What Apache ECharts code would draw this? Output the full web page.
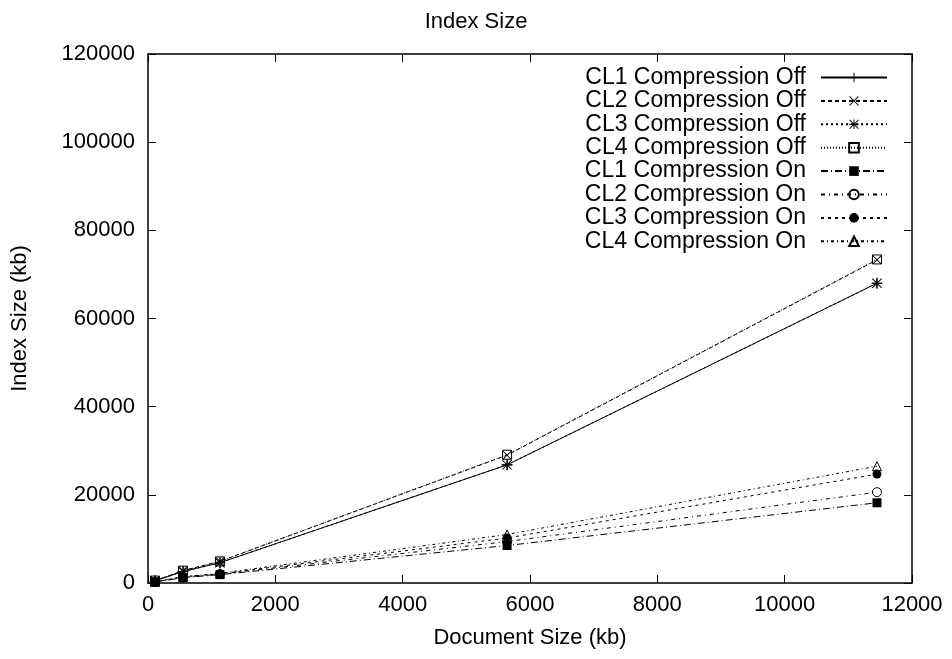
<!DOCTYPE html>
<html>
<head>
<meta charset="utf-8">
<title>Index Size</title>
<script src="https://cdn.jsdelivr.net/npm/echarts@6/dist/echarts.min.js"></script>
<style>
  html, body { margin: 0; padding: 0; background: #fff; }
  #chart { width: 952px; height: 659px; }
</style>
</head>
<body>
<div id="chart"></div>
<script>
// Document sizes (kb) measured for each run
const docSizes = [110, 550, 1130, 5640, 11450];

// Index sizes (kb)
const cl1Off = [500, 2600, 4600, 26800, 68000];
const cl2Off = [550, 2800, 4900, 29000, 73300];
const cl3Off = [500, 2600, 4600, 26800, 68000];
const cl4Off = [550, 2800, 4900, 29100, 73400];
const cl1On = [200, 1200, 1900, 8500, 18200];
const cl2On = [220, 1300, 2000, 9400, 20600];
const cl3On = [240, 1400, 2100, 10200, 24700];
const cl4On = [250, 1450, 2200, 11000, 26500];

const seriesNames = [
  'CL1 Compression Off', 'CL2 Compression Off', 'CL3 Compression Off', 'CL4 Compression Off',
  'CL1 Compression On', 'CL2 Compression On', 'CL3 Compression On', 'CL4 Compression On'
];
const seriesValues = [cl1Off, cl2Off, cl3Off, cl4Off, cl1On, cl2On, cl3On, cl4On];

const FONT = '"Liberation Sans", Arial, Helvetica, sans-serif';

// point glyphs
const PLUS = 'path://M0,4.5H10V5.5H0Z M4.5,0H5.5V10H4.5Z';
const CROSS = 'path://M0.7,0L5,4.3L9.3,0L10,0.7L5.7,5L10,9.3L9.3,10L5,5.7L0.7,10L0,9.3L4.3,5L0,0.7Z';
const STAR = 'path://M4.5,0H5.5V10H4.5Z M0,4.5H10V5.5H0Z M0.7,0L5,4.3L9.3,0L10,0.7L5.7,5L10,9.3L9.3,10L5,5.7L0.7,10L0,9.3L4.3,5L0,0.7Z';

const styles = [
  { symbol: PLUS,       size: 11, open: false, dash: 'solid' },
  { symbol: CROSS,      size: 9,  open: false, dash: [4, 3] },
  { symbol: STAR,       size: 10, open: false, dash: [2, 3] },
  { symbol: 'rect',     size: 9,  open: true,  dash: [1, 2] },
  { symbol: 'rect',     size: 9,  open: false, dash: [7, 3, 1, 3] },
  { symbol: 'circle',   size: 9,  open: true,  dash: [4, 4, 1, 4] },
  { symbol: 'circle',   size: 9,  open: false, dash: [3, 4] },
  { symbol: 'triangle', size: 9,  open: true,  dash: [3, 3, 1, 3] }
];

const series = seriesNames.map((name, i) => {
  const st = styles[i];
  return {
    name: name,
    type: 'line',
    data: docSizes.map((x, j) => [x, seriesValues[i][j]]),
    symbol: st.symbol,
    symbolSize: st.size,
    showSymbol: true,
    showAllSymbol: true,
    lineStyle: { color: '#000', width: 1, type: st.dash },
    itemStyle: st.open
      ? { color: 'rgba(255,255,255,0)', borderColor: '#000', borderWidth: 1 }
      : { color: '#000', borderWidth: 0 },
    emphasis: { disabled: true },
    z: 2 + i
  };
});

const plain = v => String(v);
const axisLineStyle = { show: true, onZero: false, lineStyle: { color: '#000', width: 1.5 } };
const tickStyle = { show: true, inside: true, length: 8, lineStyle: { color: '#000', width: 1 } };
const labelStyle = { color: '#000', fontFamily: FONT, fontSize: 22 };

const chart = echarts.init(document.getElementById('chart'), null, { renderer: 'canvas' });
chart.setOption({
  animation: false,
  backgroundColor: '#fff',
  title: {
    text: 'Index Size',
    left: 'center',
    top: 6,
    textStyle: { color: '#000', fontFamily: FONT, fontSize: 22, fontWeight: 'normal' }
  },
  grid: { left: 148, right: 40, top: 54, bottom: 76, containLabel: false },
  legend: {
    orient: 'vertical',
    right: 64,
    top: 66,
    align: 'right',
    padding: 0,
    itemGap: 0.4,
    itemWidth: 66,
    itemHeight: 12,
    selectedMode: false,
    textStyle: { color: '#000', fontFamily: FONT, fontSize: 23, lineHeight: 23, padding: [0, 10, 0, 0] },
    data: seriesNames
  },
  xAxis: [
    {
      type: 'value',
      position: 'bottom',
      min: 0, max: 12000, interval: 2000,
      name: 'Document Size (kb)',
      nameLocation: 'middle',
      nameGap: 44,
      nameTextStyle: labelStyle,
      axisLine: axisLineStyle,
      axisTick: tickStyle,
      axisLabel: Object.assign({ margin: 11, formatter: plain }, labelStyle),
      splitLine: { show: false }
    },
    {
      type: 'value',
      position: 'top',
      min: 0, max: 12000, interval: 2000,
      axisLine: axisLineStyle,
      axisTick: tickStyle,
      axisLabel: { show: false },
      splitLine: { show: false }
    }
  ],
  yAxis: [
    {
      type: 'value',
      position: 'left',
      min: 0, max: 120000, interval: 20000,
      name: 'Index Size (kb)',
      nameLocation: 'middle',
      nameGap: 117,
      nameRotate: 90,
      nameTextStyle: labelStyle,
      axisLine: axisLineStyle,
      axisTick: tickStyle,
      axisLabel: Object.assign({ margin: 13, formatter: plain }, labelStyle),
      splitLine: { show: false }
    },
    {
      type: 'value',
      position: 'right',
      min: 0, max: 120000, interval: 20000,
      axisLine: axisLineStyle,
      axisTick: tickStyle,
      axisLabel: { show: false },
      splitLine: { show: false }
    }
  ],
  series: series
});
</script>
</body>
</html>
